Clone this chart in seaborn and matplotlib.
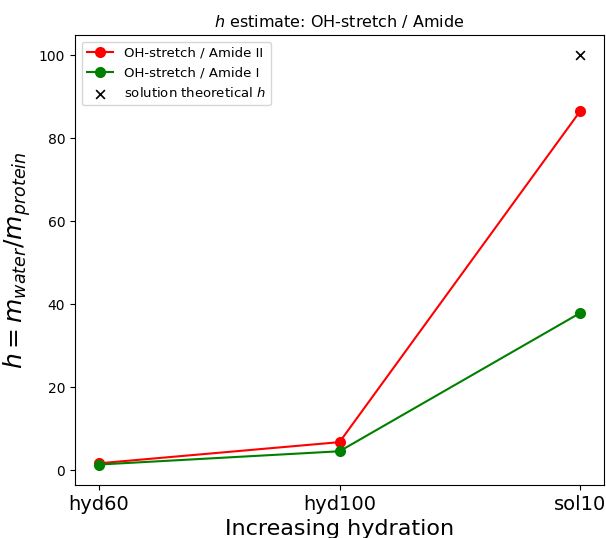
import matplotlib
matplotlib.use("Agg")
import matplotlib.pyplot as plt
import seaborn as sns
import pandas as pd

categories = ["hyd60", "hyd100", "sol10"]
amide2 = [1.7, 6.8, 86.5]
amide1 = [1.4, 4.6, 37.9]
theo_cat = ["sol10"]
theo_val = [100.0]

pos = {c: i for i, c in enumerate(categories)}
df = pd.DataFrame({
    "x": [pos[c] for c in categories] * 2,
    "h": amide2 + amide1,
    "series": ["OH-stretch / Amide II"] * 3 + ["OH-stretch / Amide I"] * 3,
})

fig = plt.figure(figsize=(6.06, 5.38), dpi=100)
ax = fig.add_axes([75/606, 1-485/538, (604-75)/606, (485-35)/538])

sns.lineplot(data=df, x="x", y="h", hue="series",
             palette={"OH-stretch / Amide II": "red", "OH-stretch / Amide I": "green"},
             marker="o", markersize=8, markeredgewidth=0, linewidth=1.5, ax=ax)
sns.scatterplot(x=[pos[c] for c in theo_cat], y=theo_val, marker="x", color="black",
                s=40, linewidth=1.2, label="solution theoretical $h$", ax=ax)

ax.set_xticks(range(len(categories)))
ax.set_xticklabels(categories, fontsize=14)
ax.tick_params(axis="y", labelsize=10)
ax.set_xlim(-0.1, 2.1)
ax.set_xlabel("Increasing hydration", fontsize=16)
ax.set_ylabel(r"$h = m_{water}/m_{protein}$", fontsize=18)
ax.set_title(r"$h$ estimate: OH-stretch / Amide", fontsize=11.5)
ax.legend(loc="upper left", fontsize=9.5)

fig.savefig("out.png", dpi=100)
